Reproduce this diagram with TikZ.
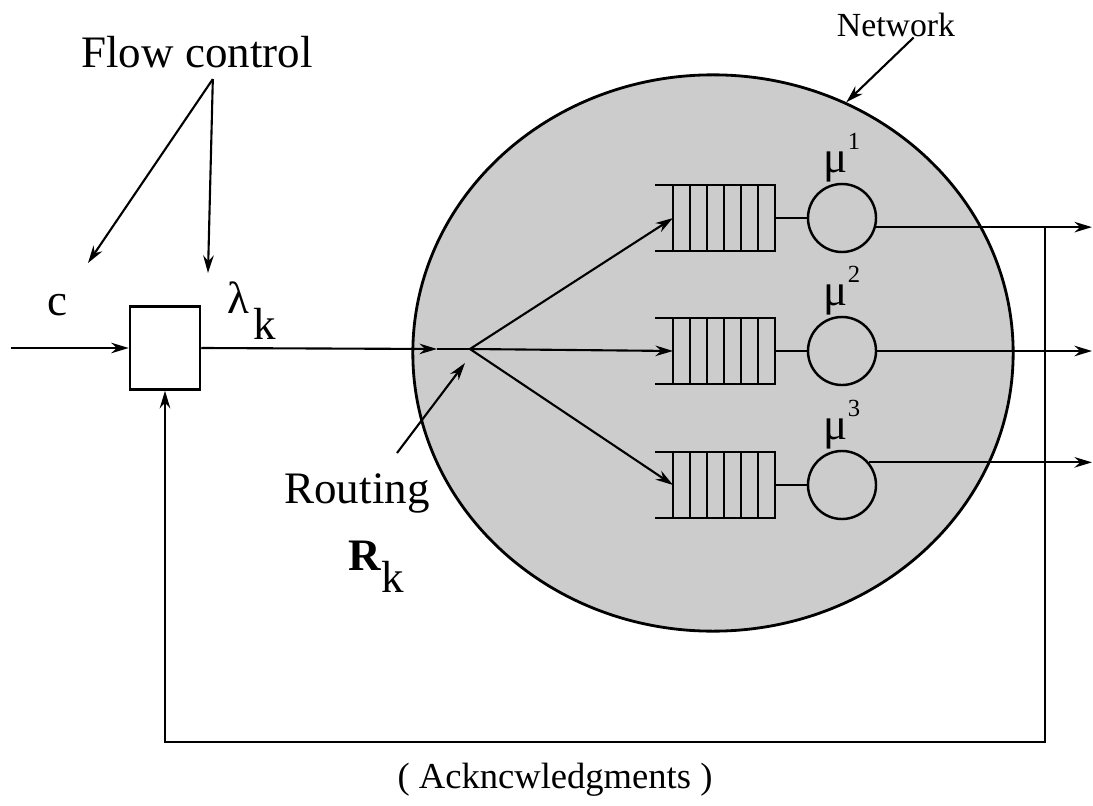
\documentclass[tikz,border=0pt]{standalone}
\usepackage{fontspec}
\setmainfont{Liberation Serif}
\usetikzlibrary{shapes.geometric, arrows.meta, positioning}
\tikzset{
    net/.style={ellipse, draw, fill=black!20, line width=0.8pt, minimum width=6cm, minimum height=5.56cm, inner sep=0pt},
    ctrlbox/.style={rectangle, draw, line width=0.7pt, minimum width=0.7cm, minimum height=0.83cm, inner sep=0pt},
    server/.style={circle, draw, line width=0.7pt, minimum size=0.68cm, inner sep=0pt},
    lbl/.style={font=\fontsize{12.8}{15}\selectfont, inner sep=0pt},
    smalllbl/.style={font=\fontsize{9.6}{12}\selectfont, inner sep=0pt},
    acklbl/.style={font=\fontsize{10.4}{12}\selectfont, inner sep=0pt},
    arrow/.style={-{Stealth[length=5pt, width=3pt]}, line width=0.6pt},
    wire/.style={line width=0.6pt},
}
\newcommand{\srvlabel}[1]{μ\raisebox{6.5pt}{\fontsize{7}{8}\selectfont #1}}

\begin{document}
\begin{tikzpicture}[x=0.01cm, y=-0.01cm]
    \useasboundingbox (0,0) rectangle (1093,806);

    % Network cloud
    \node[net] (net) at (713,353) {};
    \node[smalllbl] (netlbl) at (896,25) {Network};
    \draw[arrow] ([xshift=5pt]netlbl.south) -- (net.62);

    % Queues (open on the left)
    \foreach \y/\n in {218/1, 351/2, 485/3} {
        \draw[wire] (655,\y-33) -- (775,\y-33) -- (775,\y+33) -- (655,\y+33);
        \foreach \x in {673,690,...,758}
            \draw[wire] (\x,\y-33) -- (\x,\y+33);
        \coordinate (qin\n) at (673,\y);
        \coordinate (qout\n) at (775,\y);
    }

    % Servers
    \node[server] (s1) at (842,218) {};
    \node[server] (s2) at (842,351) {};
    \node[server] (s3) at (842,485) {};
    \node[lbl, above=0pt of s1] (mu1) {\srvlabel{1}};
    \node[lbl, above=0pt of s2] (mu2) {\srvlabel{2}};
    \node[lbl, above=0pt of s3] (mu3) {\srvlabel{3}};
    \draw[wire] (qout1) -- (s1);
    \draw[wire] (qout2) -- (s2);
    \draw[wire] (qout3) -- (s3);

    % Outputs
    \coordinate (outR) at (1092,0);
    \draw[arrow] (s1.-15) -- (s1.-15 -| outR);
    \draw[arrow] (s2.east) -- (s2.east -| outR);
    \draw[arrow] (s3.40) -- (s3.40 -| outR);

    % Flow control window
    \node[ctrlbox] (fc) at (165,348) {};
    \coordinate (src) at (11,348);
    \draw[arrow] (src) -- (fc.west);
    \node[lbl] (c) at (57,305) {c};
    \node[lbl, anchor=base west] (lam) at (227,313) {λ\hspace{1pt}\raisebox{-7.5pt}{k}};
    \node[lbl] (flow) at (197,52) {Flow control};
    \coordinate (toC) at (88,263);
    \coordinate (toLam) at (208,273);
    \draw[arrow] ([xshift=4.5pt, yshift=-3pt]flow.south) -- (toC);
    \draw[arrow] ([xshift=4.5pt, yshift=-3pt]flow.south) -- (toLam);

    % Routing split
    \coordinate (midtip) at (437,349);
    \coordinate (split) at (470,349);
    \draw[arrow] (fc.east) -- (midtip);
    \draw[wire] (midtip) -- (split);
    \draw[arrow] (split) -- (qin1);
    \draw[arrow] (split) -- (qin2);
    \draw[arrow] (split) -- (qin3);
    \node[lbl, anchor=base] (route) at (357,503) {Routing};
    \node[lbl, anchor=base west] (Rk) at (348,570) {\textbf{R}\raisebox{-6.5pt}{k}};
    \coordinate (rtail) at (397,453);
    \coordinate (rtip) at (465,363);
    \draw[arrow] (rtail) -- (rtip);

    % Acknowledgment feedback
    \coordinate (ackR) at (1045,742);
    \draw[arrow] (s1.-15 -| ackR) -- (ackR) -| (fc.south);
    \node[acklbl] (ack) at (555,780) {( Ackncwledgments )};
\end{tikzpicture}
\end{document}
